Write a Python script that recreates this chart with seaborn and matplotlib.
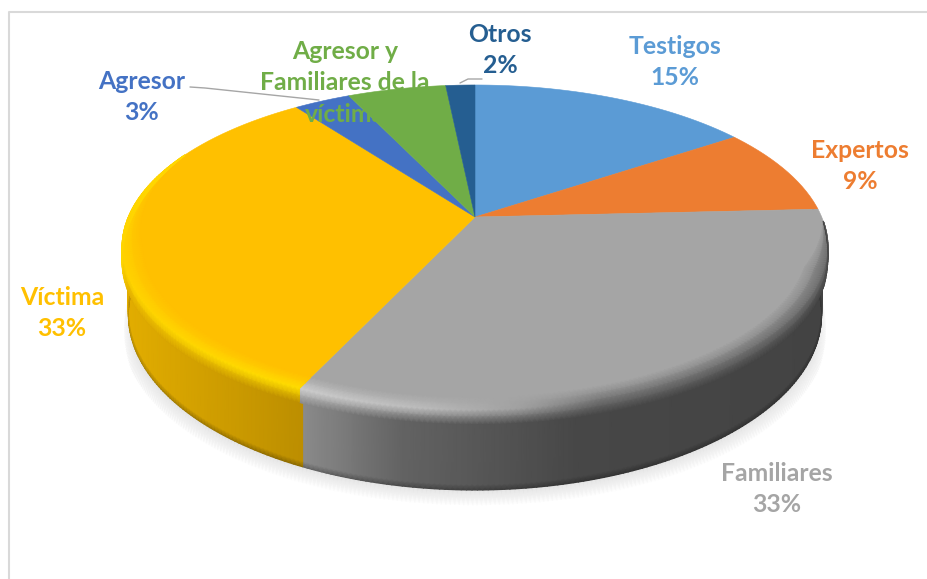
import numpy as np
import matplotlib
matplotlib.use("Agg")
import matplotlib.pyplot as plt
from matplotlib.path import Path
from matplotlib.transforms import Transform, Affine2D
import seaborn as sns

categories = ["Testigos", "Expertos", "Familiares", "Víctima", "Agresor", "Agresor y\nFamiliares de la\nvíctima", "Otros"]
values = [15.5, 8.7, 32.7, 33.0, 3.1, 5.4, 1.6]
pct_labels = ["15%", "9%", "33%", "33%", "3%", None, "2%"]
colors = ["#5B9BD5", "#ED7D31", "#A5A5A5", "#FFC000", "#4472C4", "#70AD47", "#255E91"]
label_pos = [(675, 62), (860, 166), (777, 489), (62, 313), (142, 97), (345, 83), (500, 50)]

sns.set_theme(style="white")
plt.rcParams["font.family"] = ["Lato", "DejaVu Sans"]
palette = sns.color_palette(colors)

W, H = 928, 579
CX, CY, A, B, K = 475.0, 217.0, 346.7, 156.8, 0.1877
DEPTH = 65.0
BOTTOM_SCALE = 0.982


class Persp(Transform):
    input_dims = output_dims = 2
    is_separable = False
    has_inverse = False

    def transform_non_affine(self, values):
        v = np.asarray(values, dtype=float)
        d = 1 + K * v[:, 1]
        return np.column_stack([CX + A * v[:, 0] / d, CY - B * v[:, 1] / d])

    def transform_path_non_affine(self, path):
        poly = path.to_polygons(Affine2D().scale(1000), closed_only=False)[0] / 1000
        return Path(self.transform_non_affine(poly))


def project(r, th):
    u, v = r * np.sin(th), r * np.cos(th)
    d = 1 + K * v
    return CX + A * u / d, CY - B * v / d


def rim_factor(th):
    v = np.cos(th)
    left = np.clip((0.45 - v) / 0.65, 0, 1)
    right = np.clip((-0.02 - v) / 0.3, 0, 1)
    return np.where(np.sin(th) < 0, left, right)


def lerp_stops(x, xs, cols):
    cols = np.array([matplotlib.colors.to_rgb(c) for c in cols])
    return np.column_stack([np.interp(x, xs, cols[:, i]) for i in range(3)])


side_style = {
    "Familiares": dict(sx=[302, 400, 580, 830], side=["#8A8A8A", "#636363", "#474747", "#434343"],
                       hx=[302, 420, 520, 600, 830], high=["#CDCDCD", "#BDBDBD", "#A0A0A0", "#767676", "#6A6A6A"]),
    "Víctima": dict(sx=[120, 302], side=["#E2AD00", "#BC8E00"],
                    hx=[120, 302], high=["#FFD500", "#FFDD00"]),
}

fig = plt.figure(figsize=(W / 100, H / 100), dpi=100, facecolor="white")
ax = fig.add_axes([0, 0, 1, 1])

# soft drop shadow
th = np.linspace(np.pi * 0.5, np.pi * 1.5, 300)
x0, y0 = project(1, th)
xb = CX + BOTTOM_SCALE * (x0 - CX)
yb = y0 + DEPTH / (1 + K * np.cos(th))
grow = np.clip((0.1 - np.cos(th)) / 0.5, 0, 1)
xs = np.vstack([xb, CX + (xb - CX) * (1 + 0.018 * grow)])
ys = np.vstack([yb - 2, yb + 15 * grow])
shade = np.zeros((2, th.size, 3))
shade[0] = np.column_stack([1 - 0.13 * grow] * 3)
shade[1] = 1.0
ax.pcolormesh(xs, ys, shade, shading="gouraud", zorder=1)

# slice boundaries, from the values
fr = np.cumsum([0] + values) / sum(values) * 2 * np.pi

# side walls
for i, name in enumerate(categories):
    if name not in side_style:
        continue
    st = side_style[name]
    th = np.linspace(fr[i], fr[i + 1], 160)
    th = th[np.cos(th) < 0.1]
    xe, ye = project(0.985, th)
    xo, yo = project(1, th)
    xb = CX + BOTTOM_SCALE * (xo - CX)
    dep = DEPTH / (1 + K * np.cos(th))
    yb = yo + dep
    t = np.array([0, 0.94, 1.0])[:, None]
    X = xe + (xb - xe) * t
    Y = ye + (yb - ye) * t
    s = lerp_stops(xo, st["sx"], st["side"])
    C = np.stack([s, s, s * 0.72])
    ax.pcolormesh(X, Y, C, shading="gouraud", zorder=2)

# top face
wedges, _ = ax.pie(values, colors=palette, startangle=90, counterclock=False,
                   wedgeprops=dict(linewidth=0.4))
persp = Persp()
for w, c in zip(wedges, colors):
    w.set_transform(persp + ax.transData)
    w.set_edgecolor(c)
    w.set_zorder(3)

# rounded rim
for i, name in enumerate(categories):
    if name not in side_style:
        continue
    st = side_style[name]
    th = np.linspace(fr[i], fr[i + 1], 160)
    th = th[rim_factor(th) > 0.02]
    f = rim_factor(th)
    xi, yi = project(1 - 0.055 * f, th)
    xe, ye = project(1, th)
    yo = ye + 14 * f
    X = np.vstack([xi, (xi + xe) / 2, xe, xe, xe])
    Y = np.vstack([yi, (yi + ye) / 2, ye, ye + 7 * f, yo])
    face = np.tile(matplotlib.colors.to_rgb(colors[i]), (th.size, 1))
    hi = lerp_stops(xe, st["hx"], st["high"])
    sd = lerp_stops(xe, st["sx"], st["side"])
    g = np.clip((-0.2 - np.cos(th)) / 0.17, 0, 1)[:, None]
    g = np.where(np.sin(th)[:, None] < 0, g, 1.0)
    # the upper left of the rim catches the light, with no wall below it
    outer = hi * (1 - g) + sd * g
    C = np.stack([face, 0.55 * face + 0.45 * hi, hi, 0.5 * hi + 0.5 * outer, outer])
    ax.pcolormesh(X, Y, C, shading="gouraud", zorder=4)

ax.set_aspect("auto")
ax.set_xlim(0, W)
ax.set_ylim(H, 0)
ax.set_axis_off()

# chart border
ax.plot([9, 9, W], [H, 12, 12], color="#D9D9D9", lw=1.5, zorder=0, solid_capstyle="butt")

# leader lines
leaders = [([190, 205, 319], [87, 88, 100]), ([460, 468, 482], [83, 79, 79])]
for lx, ly in leaders:
    ax.plot(lx, ly, color="#A6A6A6", lw=1.0, zorder=5)

# labels
for name, pct, c, (lx, ly) in zip(categories, pct_labels, colors, label_pos):
    s = name if pct is None else f"{name}\n{pct}"
    ax.text(lx, ly, s, color=c, ha="center", va="center", fontsize=17.8,
            fontweight="bold", linespacing=1.47, zorder=6)

fig.savefig("out.png", dpi=100, facecolor="white")
